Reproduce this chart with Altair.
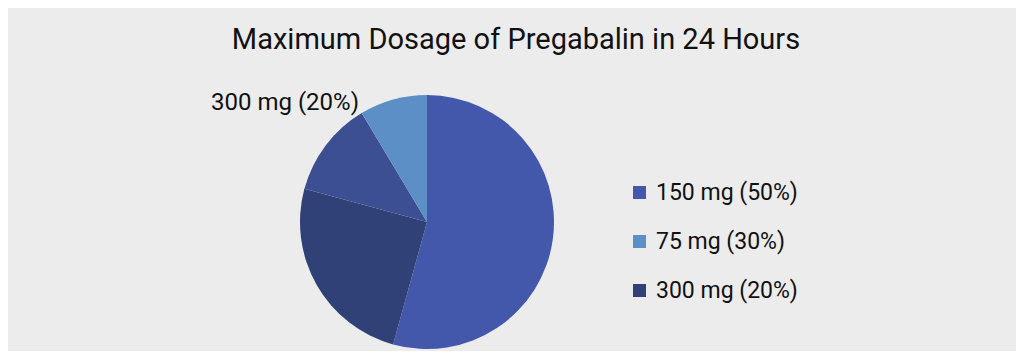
import altair as alt
import pandas as pd

# Slice data (clockwise from 12 o'clock) (degrees share)
slice_names = ["150 mg (50%)", "300 mg (20%)", "Other", "75 mg (30%)"]
slice_values = [54.3, 24.9, 12.2, 8.6]
slice_order = [1, 2, 3, 4]
slice_colors = ["#4358ab", "#2f4177", "#3d4f93", "#5b8fc6"]

legend_values = ["150 mg (50%)", "75 mg (30%)", "300 mg (20%)"]

title_text = ["Maximum Dosage of Pregabalin in 24 Hours"]
callout_text = ["300 mg (20%)"]

FONT = "Roboto"

df = pd.DataFrame({"name": slice_names, "value": slice_values, "order": slice_order})

pie = alt.Chart(df).mark_arc(outerRadius=127, stroke=None).encode(
    theta=alt.Theta("value:Q", stack=True),
    color=alt.Color(
        "name:N",
        scale=alt.Scale(domain=slice_names, range=slice_colors),
        legend=alt.Legend(
            values=legend_values,
            title=None,
            orient="none",
            legendX=620,
            legendY=173,
            symbolType="square",
            symbolSize=169,
            symbolStrokeWidth=0,
            labelFont=FONT,
            labelFontSize=23,
            labelColor="#111111",
            labelOffset=5,
            rowPadding=25,
            padding=0,
        ),
    ),
    order=alt.Order("order:Q"),
    x=alt.value(419),
    y=alt.value(214),
)

title = alt.Chart(pd.DataFrame({"t": title_text})).mark_text(
    font=FONT, fontSize=29, color="#111111", align="center", baseline="middle"
).encode(text="t:N", x=alt.value(508), y=alt.value(32))

callout = alt.Chart(pd.DataFrame({"t": callout_text})).mark_text(
    font=FONT, fontSize=24, color="#111111", align="left", baseline="middle"
).encode(text="t:N", x=alt.value(203), y=alt.value(95))

chart = alt.layer(pie, title, callout).properties(
    width=1008, height=343, autosize=alt.AutoSizeParams(type="none"), padding=0
).configure(background="#ececec").configure_view(stroke=None)

chart.save("out.html", embed_options={"renderer": "svg", "actions": False})
